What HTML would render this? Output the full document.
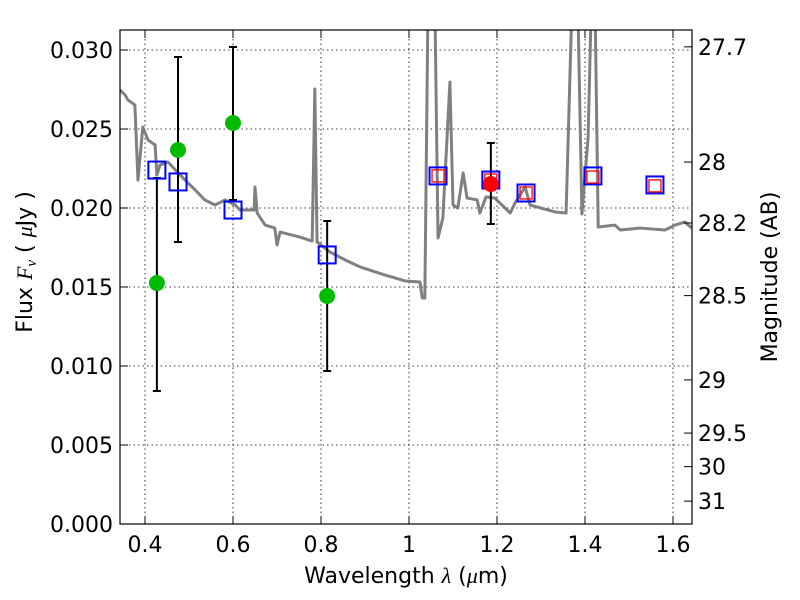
<!DOCTYPE html>
<html><head><meta charset="utf-8"><style>
body{margin:0;background:#fff;}
svg{display:block;font-family:"DejaVu Sans","Liberation Sans",sans-serif;}
</style></head><body>
<svg id="chart" width="800" height="600" viewBox="0 0 800 600" xmlns="http://www.w3.org/2000/svg">
<defs><clipPath id="pc"><rect x="120" y="30" width="572" height="494"/></clipPath></defs>
<g id="grid"></g>
<g id="series" clip-path="url(#pc)"></g>
<rect x="120" y="30" width="572" height="494" fill="none" stroke="#000" stroke-width="1.2"/>
<g id="axes"></g>
<text x="406" y="583" font-size="22" text-anchor="middle">Wavelength  <tspan font-family="Liberation Serif,serif" font-style="italic">λ</tspan> (<tspan font-style="italic" font-family="Liberation Serif,serif">μ</tspan>m)</text>
<text transform="translate(32,262) rotate(-90)" font-size="22" text-anchor="middle">Flux  <tspan font-family="Liberation Serif,serif" font-style="italic">F<tspan font-size="15" dy="4">ν</tspan></tspan><tspan dy="-4">   ( </tspan><tspan font-family="Liberation Serif,serif" font-style="italic">μ</tspan>Jy )</text>
<text transform="translate(777,277) rotate(-90)" font-size="22" text-anchor="middle">Magnitude (AB)</text>
</svg>
<script>
const specLam=[0.343,0.355,0.361,0.377,0.384,0.395,0.407,0.423,0.427,0.434,0.452,0.491,0.514,0.536,0.559,0.582,0.605,0.616,0.648,0.650,0.655,0.673,0.695,0.700,0.707,0.752,0.780,0.786,0.791,0.820,0.855,0.889,0.945,0.991,1.025,1.030,1.036,1.043,1.059,1.066,1.077,1.093,1.100,1.111,1.123,1.132,1.155,1.161,1.175,1.195,1.230,1.241,1.264,1.275,1.332,1.357,1.370,1.384,1.393,1.407,1.414,1.423,1.430,1.468,1.480,1.525,1.582,1.605,1.627,1.643];
const specFlux=[0.02747,0.02715,0.02684,0.02652,0.02177,0.02513,0.0243,0.02399,0.02209,0.02272,0.02291,0.02177,0.02114,0.02051,0.02019,0.02051,0.02019,0.01987,0.01987,0.02133,0.01968,0.01892,0.01873,0.01766,0.01848,0.01816,0.01791,0.02753,0.01785,0.01722,0.01671,0.01627,0.01576,0.01538,0.01532,0.0143,0.0143,0.0325,0.0325,0.0181,0.01937,0.02797,0.02019,0.02,0.02222,0.02063,0.02051,0.01968,0.0207,0.02063,0.01968,0.02032,0.02133,0.02019,0.01975,0.01968,0.0325,0.0325,0.01962,0.02443,0.0325,0.0325,0.0188,0.01892,0.01861,0.01873,0.01861,0.01892,0.01911,0.01873];
const greenLam=[0.427,0.475,0.600,0.814];
const greenFlux=[0.01525,0.02367,0.02538,0.01443];
const greenLo=[0.00842,0.01785,0.02051,0.00968];
const greenHi=[0.0219,0.02956,0.03019,0.01918];
const redLam=[1.186];
const redFlux=[0.02152];
const redLo=[0.01899];
const redHi=[0.02411];
const blueLam=[0.427,0.475,0.600,0.814,1.066,1.186,1.266,1.418,1.559];
const blueFlux=[0.0224,0.02165,0.01987,0.01703,0.02203,0.02177,0.02095,0.02203,0.02146];
const modelLam=[1.066,1.186,1.266,1.418,1.559];
const modelFlux=[0.02203,0.02177,0.02095,0.02196,0.0214];
const xTicks=[0.4,0.6,0.8,1.0,1.2,1.4,1.6];
const xTickLabels=["0.4","0.6","0.8","1","1.2","1.4","1.6"];
const yTicks=[0,0.005,0.010,0.015,0.020,0.025,0.030];
const yTickLabels=["0.000","0.005","0.010","0.015","0.020","0.025","0.030"];
const magTicks=[27.7,28,28.2,28.5,29,29.5,30,31];
const magTickLabels=["27.7","28","28.2","28.5","29","29.5","30","31"];

const NS="http://www.w3.org/2000/svg";
const X=l=>145+(l-0.4)*440;
const Y=f=>524-f*15800;
const magToFlux=m=>Math.pow(10,(23.9-m)/2.5);
function mk(tag,attrs,parent){const e=document.createElementNS(NS,tag);for(const k in attrs)e.setAttribute(k,attrs[k]);parent.appendChild(e);return e;}
const grid=document.getElementById('grid'),ser=document.getElementById('series'),axes=document.getElementById('axes');

xTicks.forEach((t,i)=>{
  const x=X(t);
  const g=mk('line',{x1:x,x2:x,y1:30,y2:524,stroke:'#000','stroke-width':0.8,'stroke-dasharray':'1.5,3'},grid);
  
  
  mk('line',{x1:x,x2:x,y1:524,y2:516,stroke:'#000'},axes);
  mk('line',{x1:x,x2:x,y1:30,y2:38,stroke:'#000'},axes);
  const tx=mk('text',{x:x,y:552,'font-size':22,'text-anchor':'middle'},axes);
  tx.textContent=xTickLabels[i];
  
  
});
yTicks.forEach((t,i)=>{
  const y=Y(t);
  const g=mk('line',{x1:120,x2:692,y1:y,y2:y,stroke:'#000','stroke-width':0.8,'stroke-dasharray':'1.5,3'},grid);
  
  
  mk('line',{x1:120,x2:128,y1:y,y2:y,stroke:'#000'},axes);
  const tx=mk('text',{x:113,y:y+8,'font-size':22,'text-anchor':'end'},axes);
  tx.textContent=yTickLabels[i];
  
  
});
magTicks.forEach((m,i)=>{
  const y=Y(magToFlux(m));
  mk('line',{x1:684,x2:692,y1:y,y2:y,stroke:'#000'},axes);
  const tx=mk('text',{x:698,y:y+8,'font-size':22},axes);
  tx.textContent=magTickLabels[i];
  
  
});

const sp=mk('polyline',{points:specLam.map((l,i)=>X(l)+','+Y(specFlux[i])).join(' '),fill:'none',stroke:'#808080','stroke-width':3,'stroke-linejoin':'round'},ser);



function errbars(lam,lo,hi,name){
  lam.forEach((l,i)=>{
    const x=X(l);
    const e=mk('path',{d:`M${x},${Y(lo[i])}V${Y(hi[i])}M${x-4},${Y(lo[i])}h8M${x-4},${Y(hi[i])}h8`,stroke:'#000','stroke-width':2,fill:'none'},ser);
    
    
  });
}
errbars(greenLam,greenLo,greenHi,'green-error-bar');
errbars(redLam,redLo,redHi,'red-error-bar');

blueLam.forEach((l,i)=>{
  const r=mk('rect',{x:X(l)-8.5,y:Y(blueFlux[i])-8.5,width:17,height:17,fill:'none',stroke:'#0000ff','stroke-width':2},ser);
  
  
});
modelLam.forEach((l,i)=>{
  const r=mk('rect',{x:X(l)-6,y:Y(modelFlux[i])-6,width:12,height:12,fill:'none',stroke:'#ff0000','stroke-width':1.3},ser);
  
  
});
greenLam.forEach((l,i)=>{
  const c=mk('circle',{cx:X(l),cy:Y(greenFlux[i]),r:8,fill:'#00bb00'},ser);
  
  
});
redLam.forEach((l,i)=>{
  const c=mk('circle',{cx:X(l),cy:Y(redFlux[i]),r:8,fill:'#ff0000'},ser);
  
  
});
</script>
</body></html>
